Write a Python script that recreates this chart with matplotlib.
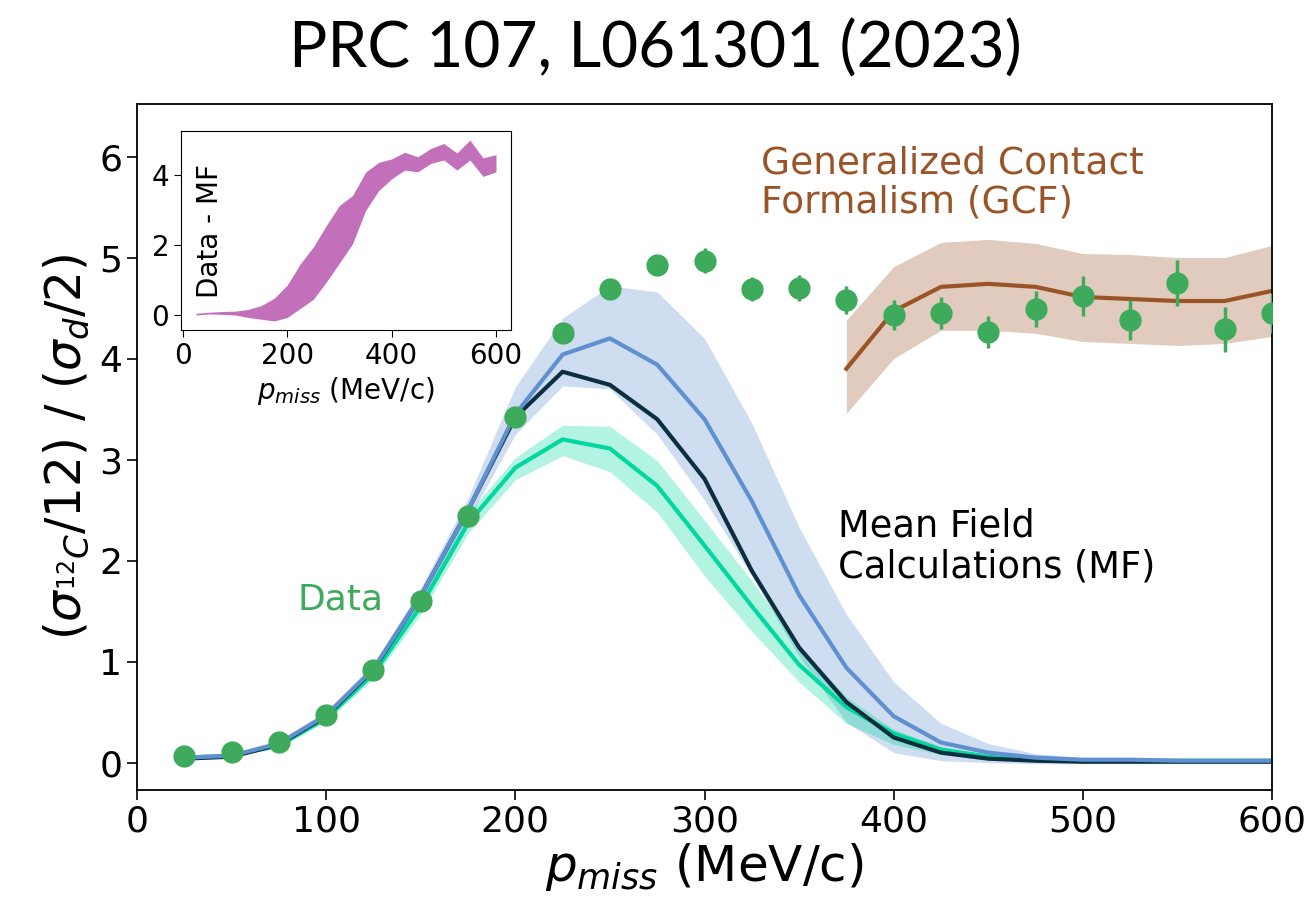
import numpy as np
import matplotlib
matplotlib.use("Agg")
import matplotlib.pyplot as plt

# ---------------- data ----------------
p_miss = [25, 50, 75, 100, 125, 150, 175, 200, 225, 250, 275, 300,
          325, 350, 375, 400, 425, 450, 475, 500, 525, 550, 575, 600]

data_y = [0.07, 0.11, 0.21, 0.47, 0.92, 1.60, 2.44, 3.42, 4.25, 4.69, 4.93, 4.97,
          4.69, 4.70, 4.58, 4.43, 4.45, 4.26, 4.49, 4.62, 4.38, 4.75, 4.29, 4.45]
data_err = [0.01, 0.01, 0.02, 0.02, 0.03, 0.04, 0.05, 0.05, 0.06, 0.07, 0.08, 0.12,
            0.12, 0.13, 0.14, 0.15, 0.16, 0.16, 0.18, 0.20, 0.20, 0.23, 0.22, 0.20]

mf_blue = [0.05, 0.07, 0.19, 0.47, 0.93, 1.65, 2.50, 3.45, 4.04, 4.20, 3.94, 3.40,
           2.59, 1.66, 0.94, 0.46, 0.20, 0.10, 0.05, 0.03, 0.03, 0.02, 0.02, 0.02]
mf_blue_hi = [0.07, 0.09, 0.22, 0.51, 0.98, 1.73, 2.62, 3.72, 4.40, 4.72, 4.66, 4.20,
              3.36, 2.33, 1.47, 0.80, 0.39, 0.19, 0.09, 0.05, 0.04, 0.04, 0.03, 0.03]
mf_blue_lo = [0.03, 0.05, 0.16, 0.43, 0.88, 1.58, 2.40, 3.25, 3.73, 3.70, 3.25, 2.60,
              1.85, 1.05, 0.40, 0.10, 0.02, 0.00, -0.01, -0.01, -0.01, -0.01, -0.01, -0.01]

mf_dark = [0.04, 0.06, 0.18, 0.46, 0.92, 1.65, 2.50, 3.42, 3.87, 3.74, 3.40, 2.81,
           1.90, 1.14, 0.60, 0.25, 0.10, 0.04, 0.02, 0.01, 0.01, 0.01, 0.01, 0.01]

mf_teal = [0.05, 0.07, 0.17, 0.44, 0.88, 1.55, 2.37, 2.92, 3.20, 3.11, 2.74, 2.15,
           1.55, 0.97, 0.55, 0.29, 0.13, 0.06, 0.03, 0.02, 0.02, 0.02, 0.02, 0.02]
mf_teal_hi = [0.06, 0.08, 0.19, 0.47, 0.93, 1.63, 2.47, 3.02, 3.34, 3.33, 2.99, 2.40,
              1.80, 1.15, 0.65, 0.33, 0.16, 0.07, 0.04, 0.03, 0.03, 0.03, 0.03, 0.03]
mf_teal_lo = [0.04, 0.06, 0.15, 0.41, 0.83, 1.47, 2.27, 2.80, 3.04, 2.88, 2.48, 1.85,
              1.30, 0.80, 0.39, 0.18, 0.08, 0.03, 0.01, 0.01, 0.01, 0.01, 0.01, 0.01]

gcf_p = [375, 400, 425, 450, 475, 500, 525, 550, 575, 600]
gcf_y = [3.90, 4.47, 4.71, 4.74, 4.71, 4.61, 4.59, 4.57, 4.57, 4.67]
gcf_hi = [4.38, 4.91, 5.15, 5.18, 5.14, 5.04, 5.03, 5.00, 5.00, 5.12]
gcf_lo = [3.46, 4.00, 4.28, 4.28, 4.25, 4.17, 4.15, 4.13, 4.15, 4.22]

diff_hi = [0.05, 0.08, 0.10, 0.11, 0.16, 0.27, 0.48, 0.86, 1.47, 1.95, 2.57, 3.14,
           3.42, 4.09, 4.37, 4.47, 4.66, 4.53, 4.77, 4.91, 4.64, 5.01, 4.50, 4.59]
diff_lo = [0.00, 0.03, 0.02, 0.00, -0.07, -0.12, -0.17, -0.07, 0.19, 0.45, 0.95, 1.49,
           2.04, 2.99, 3.56, 3.90, 4.15, 4.10, 4.34, 4.44, 4.15, 4.44, 3.97, 4.10]

# ---------------- colours ----------------
c_green = "#3daa5c"
c_blue = "#6090d0"
c_dark = "#0a3040"
c_teal = "#00d8a0"
c_brown = "#9a5428"
c_purple = "#c170b9"

fig = plt.figure(figsize=(13.11, 9.05), dpi=100)
ax = fig.add_axes([137/1311, 1-790/905, (1272-137)/1311, (790-104)/905])

ax.fill_between(p_miss, mf_blue_lo, mf_blue_hi, color=c_blue, alpha=0.3, lw=0)
ax.fill_between(p_miss, mf_teal_lo, mf_teal_hi, color=c_teal, alpha=0.3, lw=0)
ax.plot(p_miss, mf_teal, color=c_teal, lw=3)
ax.plot(p_miss, mf_dark, color=c_dark, lw=3)
ax.plot(p_miss, mf_blue, color=c_blue, lw=3)

ax.fill_between(gcf_p, gcf_lo, gcf_hi, color=c_brown, alpha=0.3, lw=0)
ax.plot(gcf_p, gcf_y, color=c_brown, lw=3)

ax.errorbar(p_miss, data_y, yerr=data_err, fmt="o", color=c_green,
            markersize=15, elinewidth=2.5, capsize=0, zorder=5)

ax.set_xlim(0, 600)
ax.set_ylim(-0.27, 6.52)
ax.set_xticks([0, 100, 200, 300, 400, 500, 600])
ax.set_yticks([0, 1, 2, 3, 4, 5, 6])
ax.tick_params(labelsize=26, length=7, width=1.2)
for s in ax.spines.values():
    s.set_linewidth(1.3)

ax.set_xlabel(r"$p_{miss}$ (MeV/c)", fontsize=36, labelpad=2)
ax.set_ylabel(r"$(\sigma_{^{12}C}/12)$ / $(\sigma_d/2)$", fontsize=35, labelpad=6)

ax.text(85, 1.62, "Data", color=c_green, fontsize=26, va="center", ha="left")
ax.text(370.5, 2.14, "Mean Field\nCalculations (MF)", color="black", fontsize=26.5,
        va="center", ha="left", linespacing=1.15)
ax.text(330, 5.74, "Generalized Contact\nFormalism (GCF)", color=c_brown, fontsize=27,
        va="center", ha="left", linespacing=1.1)

fig.suptitle("PRC 107, L061301 (2023)", fontsize=46, family="Lato",
             fontweight="normal", y=0.978)

# ---------------- inset ----------------
axi = fig.add_axes([181/1311, 1-330/905, (511-181)/1311, (330-131)/905])
axi.fill_between(p_miss, diff_lo, diff_hi, color=c_purple, lw=0)
axi.set_xticks([0, 200, 400, 600])
axi.set_yticks([0, 2, 4])
axi.tick_params(labelsize=20, length=5)
axi.set_xlabel(r"$p_{miss}$ (MeV/c)", fontsize=20)
axi.set_ylabel("Data - MF", fontsize=20, labelpad=-52)

fig.savefig("out.png", dpi=100)
